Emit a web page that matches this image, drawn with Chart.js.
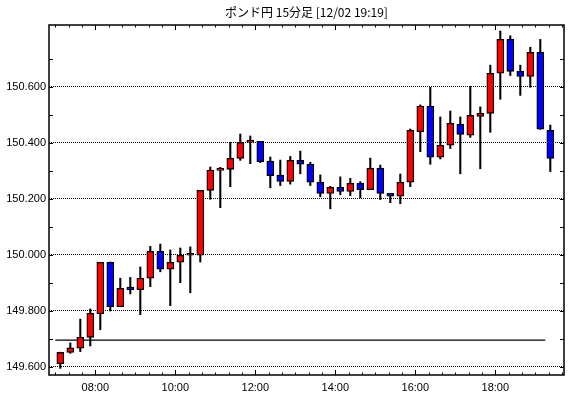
<!DOCTYPE html>
<html>
<head>
<meta charset="utf-8">
<script src="https://cdn.jsdelivr.net/npm/chart.js@4.4.1/dist/chart.umd.min.js"></script>
<style>
  body { margin: 0; background: #fff; }
  #wrap { width: 570px; height: 398px; }
</style>
</head>
<body>
<div id="wrap"><canvas id="fxChart"></canvas></div>
<script>
// 15 minute candles, GBP/JPY
var times = ['07:00','07:15','07:30','07:45','08:00','08:15','08:30','08:45','09:00','09:15',
             '09:30','09:45','10:00','10:15','10:30','10:45','11:00','11:15','11:30','11:45',
             '12:00','12:15','12:30','12:45','13:00','13:15','13:30','13:45','14:00','14:15',
             '14:30','14:45','15:00','15:15','15:30','15:45','16:00','16:15','16:30','16:45',
             '17:00','17:15','17:30','17:45','18:00','18:15','18:30','18:45','19:00','19:15'];
var open  = [149.612,149.652,149.667,149.706,149.790,149.974,149.815,149.885,149.876,149.917,
             150.013,149.949,149.974,149.999,149.999,150.231,150.302,150.306,150.345,150.402,
             150.406,150.335,150.285,150.263,150.338,150.324,150.260,150.220,150.242,150.227,
             150.256,150.233,150.310,150.220,150.210,150.260,150.440,150.532,150.349,150.392,
             150.467,150.428,150.495,150.506,150.649,150.770,150.656,150.638,150.724,150.445];
var high  = [149.653,149.686,149.771,149.807,149.974,149.975,149.917,149.920,149.957,150.031,
             150.039,150.018,150.025,150.029,150.231,150.314,150.313,150.402,150.432,150.425,
             150.406,150.350,150.339,150.352,150.371,150.331,150.286,150.245,150.279,150.274,
             150.262,150.346,150.321,150.220,150.289,150.450,150.536,150.599,150.493,150.514,
             150.493,150.602,150.529,150.678,150.800,150.783,150.678,150.742,150.770,150.464];
var low   = [149.595,149.649,149.655,149.675,149.733,149.800,149.815,149.861,149.787,149.887,
             149.940,149.819,149.901,149.865,149.975,150.199,150.169,150.244,150.338,150.326,
             150.330,150.240,150.248,150.253,150.290,150.248,150.208,150.165,150.215,150.212,
             150.204,150.233,150.198,150.187,150.183,150.244,150.369,150.324,150.343,150.380,
             150.290,150.420,150.308,150.438,150.556,150.641,150.570,150.599,150.449,150.298];
var close = [149.652,149.668,149.706,149.792,149.974,149.815,149.881,149.876,149.917,150.013,
             149.949,149.974,149.999,150.001,150.231,150.303,150.306,150.345,150.402,150.410,
             150.333,150.283,150.263,150.338,150.324,150.260,150.220,150.242,150.227,150.256,
             150.233,150.310,150.220,150.210,150.260,150.445,150.532,150.349,150.392,150.470,
             150.431,150.499,150.506,150.649,150.770,150.656,150.638,150.724,150.449,150.345];
var refLevel = 149.696;
var refFrom = '07:00', refTo = '19:15';
var priceTicks = [149.6, 149.8, 150.0, 150.2, 150.4, 150.6];

// candle centre = start of slot + 7.5 min, in hours
function toHour(t, mid) {
  var p = t.split(':');
  return +p[0] + (+p[1] + (mid ? 7.5 : 0)) / 60;
}
var xs = times.map(function(t) { return toHour(t, true); });

var bodies = times.map(function(t, i) { return { x: xs[i], y: [open[i], close[i]] }; });
var wicks = times.map(function(t, i) { return { x: xs[i], y: [low[i], high[i]] }; });

// frame + inward ticks on all four sides
var framePlugin = {
  id: 'frame',
  afterDatasetsDraw: function(chart) {
    var ctx = chart.ctx, a = chart.chartArea, x = chart.scales.x, y = chart.scales.y;
    ctx.save();
    ctx.strokeStyle = '#000';
    ctx.lineWidth = 1;
    ctx.beginPath();
    for (var k = 0; k <= 11; k++) {
      var v = 149.6 + k * 0.1;
      var py = Math.round(y.getPixelForValue(v)) + 0.5;
      if (py < a.top || py > a.bottom) continue;
      ctx.moveTo(a.left, py); ctx.lineTo(a.left + 4, py);
      ctx.moveTo(a.right - 4, py); ctx.lineTo(a.right, py);
    }
    var m0 = Math.ceil((x.min - 8) * 3), m1 = Math.floor((x.max - 8) * 3);
    for (var m = m0; m <= m1; m++) {
      var px = Math.round(x.getPixelForValue(8 + m / 3)) + 0.5;
      var len = (m % 6 === 0) ? 5 : 2.5;
      ctx.moveTo(px, a.top); ctx.lineTo(px, a.top + len);
      ctx.moveTo(px, a.bottom); ctx.lineTo(px, a.bottom - len);
    }
    ctx.stroke();
    ctx.lineWidth = 1.5;
    ctx.strokeRect(a.left, a.top, a.right - a.left, a.bottom - a.top);
    ctx.restore();
  }
};

var ctx = document.getElementById('fxChart').getContext('2d');
var fxChart = new Chart(ctx, {
  type: 'bar',
  data: {
    datasets: [{
      label: 'body',
      data: bodies,
      backgroundColor: function(c) {
        var i = c.dataIndex;
        return close[i] >= open[i] ? '#ff0000' : '#0000ff';
      },
      borderColor: '#000',
      borderWidth: 1.3,
      borderSkipped: false,
      barThickness: 7,
      minBarLength: 2,
      grouped: false
    }, {
      label: 'wick',
      data: wicks,
      backgroundColor: '#000',
      borderWidth: 0,
      barThickness: 1.4,
      grouped: false
    }, {
      type: 'line',
      label: 'level',
      data: [{ x: toHour(refFrom, false), y: refLevel }, { x: toHour(refTo, false), y: refLevel }],
      borderColor: '#000',
      borderWidth: 1.2,
      pointRadius: 0
    }]
  },
  options: {
    responsive: true,
    maintainAspectRatio: false,
    animation: false,
    layout: { padding: { left: 0, right: 6, top: 0, bottom: 0 } },
    plugins: {
      legend: { display: false },
      tooltip: { enabled: false },
      title: {
        display: true,
        text: 'ポンド円 15分足 [12/02 19:19]',
        color: '#000',
        fullSize: false,
        font: { family: "'Noto Sans CJK JP', sans-serif", size: 12, weight: 'normal' },
        padding: { top: 5, bottom: 5.6 }
      }
    },
    scales: {
      x: {
        type: 'linear',
        offset: false,
        min: 6.8425,
        max: 19.7175,
        grid: { display: false, drawTicks: false, offset: false },
        border: { display: false },
        afterFit: function(s) { s.height = 23; },
        afterBuildTicks: function(s) {
          s.ticks = s.ticks.filter(function(t) { return t.value % 2 === 0 && t.value > s.min && t.value < s.max; });
        },
        ticks: {
          stepSize: 2,
          includeBounds: false,
          autoSkip: false,
          maxRotation: 0,
          padding: 6,
          color: '#000',
          font: { family: "'Liberation Sans', sans-serif", size: 11 },
          callback: function(v) { return (v < 10 ? '0' : '') + v + ':00'; }
        }
      },
      y: {
        type: 'linear',
        min: 149.5714,
        max: 150.8214,
        afterFit: function(s) { s.width = 49; },
        afterBuildTicks: function(s) {
          s.ticks = priceTicks.map(function(v) { return { value: v }; });
        },
        grid: { color: '#000', lineWidth: 1, drawTicks: false },
        border: { display: false, dash: [1, 1] },
        ticks: {
          stepSize: 0.2,
          includeBounds: false,
          padding: 3,
          color: '#000',
          font: { family: "'Liberation Sans', sans-serif", size: 11 },
          callback: function(v) { return v.toFixed(3); }
        }
      }
    }
  },
  plugins: [framePlugin]
});
</script>
</body>
</html>
